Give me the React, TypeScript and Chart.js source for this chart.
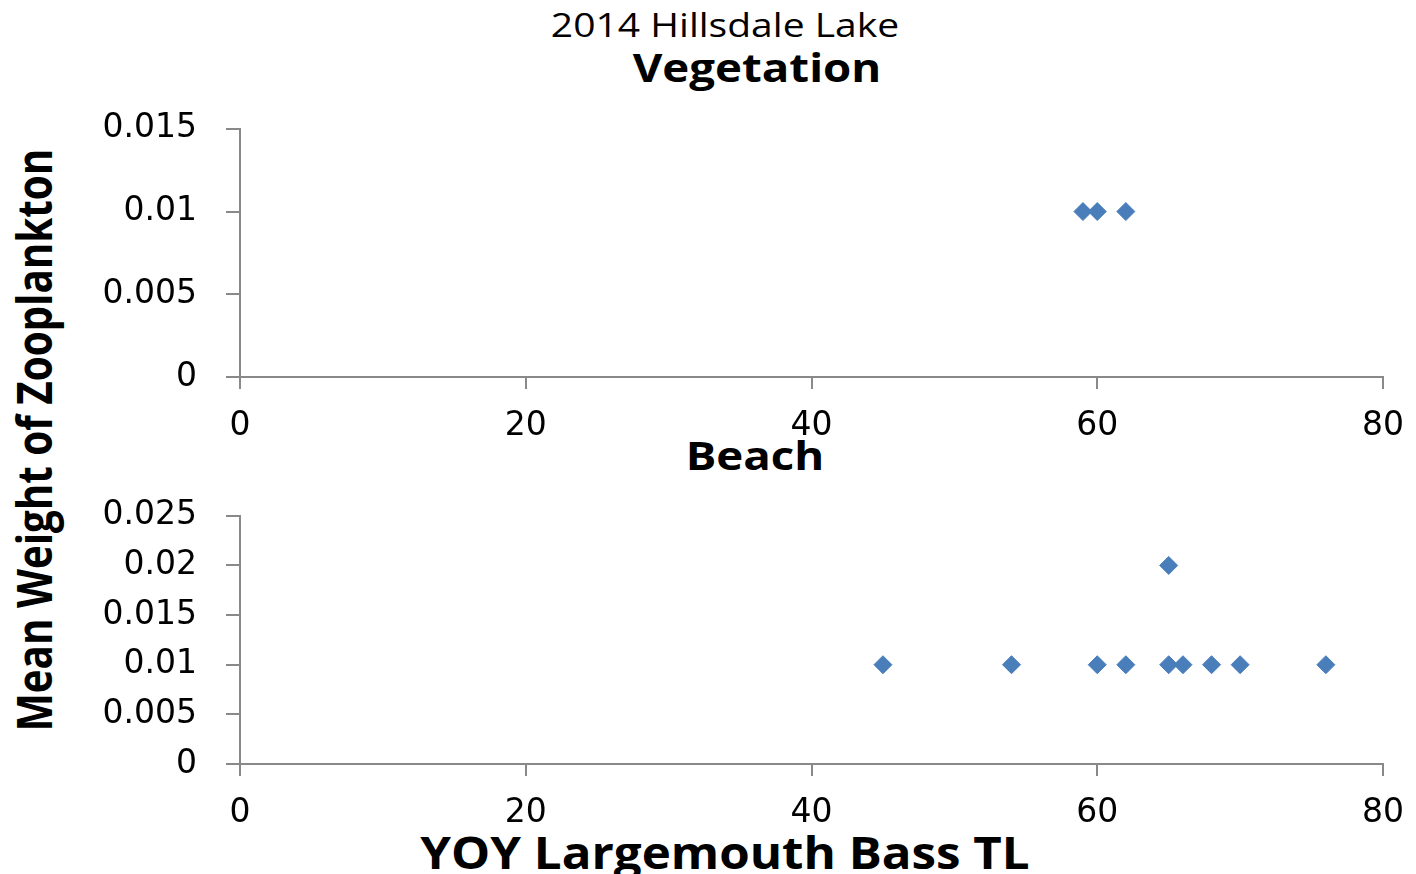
import React, { useEffect, useRef } from "react";
import { Chart, registerables } from "chart.js";

Chart.register(...registerables);

// ---- data ----
const vegetationTL = [59, 60, 62];
const vegetationWeight = [0.01, 0.01, 0.01];
const beachTL = [45, 54, 60, 62, 65, 65, 66, 68, 70, 76];
const beachWeight = [0.01, 0.01, 0.01, 0.01, 0.02, 0.01, 0.01, 0.01, 0.01, 0.01];
const xMin = 0;
const xMax = 80;
const xStep = 20;
const vegetationYMax = 0.015;
const beachYMax = 0.025;
const yStep = 0.005;

const AXIS_COLOR = "#898989";
const POINT_COLOR = "#4A7EBB";
const TICK_FONT = { family: "'DejaVu Sans', Verdana, sans-serif", size: 33 };
const CANVAS_W = 1362;
const CANVAS_H = 360;

function Scatter(props: { xs: number[]; ys: number[]; yMax: number; top: number }) {
  const ref = useRef<HTMLCanvasElement | null>(null);
  useEffect(() => {
    const canvas = ref.current;
    if (!canvas) return;
    const pts = props.xs.map((x, i) => ({ x, y: props.ys[i] }));
    const chart = new Chart(canvas, {
      type: "scatter",
      data: {
        datasets: [
          {
            data: pts,
            pointStyle: "rectRot",
            pointRadius: 9,
            pointHoverRadius: 9,
            backgroundColor: POINT_COLOR,
            borderColor: POINT_COLOR,
            borderWidth: 1,
          },
        ],
      },
      options: {
        responsive: false,
        animation: false,
        events: [],
        layout: { padding: { top: 0, right: 0, bottom: 0, left: 0 } },
        plugins: { legend: { display: false }, tooltip: { enabled: false }, title: { display: false } },
        scales: {
          x: {
            type: "linear",
            min: xMin,
            max: xMax,
            ticks: { stepSize: xStep, color: "#000", font: TICK_FONT, padding: 18, maxRotation: 0 },
            grid: { drawOnChartArea: false, drawTicks: true, tickLength: 12, color: AXIS_COLOR, lineWidth: 2 },
            border: { display: true, color: AXIS_COLOR, width: 2 },
            afterFit: (s: any) => {
              s.height = 63;
            },
          },
          y: {
            type: "linear",
            min: 0,
            max: props.yMax,
            ticks: {
              stepSize: yStep,
              color: "#000",
              font: TICK_FONT,
              padding: 29,
              callback: (v: any) => String(Number(Number(v).toFixed(3))),
            },
            grid: { drawOnChartArea: false, drawTicks: true, tickLength: 14, color: AXIS_COLOR, lineWidth: 2 },
            border: { display: true, color: AXIS_COLOR, width: 2 },
            afterFit: (s: any) => {
              s.width = 180;
            },
          },
        },
      },
    } as any);
    return () => chart.destroy();
  }, []);
  return (
    <canvas
      ref={ref}
      width={CANVAS_W}
      height={CANVAS_H}
      style={{ position: "absolute", left: 60, top: props.top, width: CANVAS_W, height: CANVAS_H }}
    />
  );
}

const titleFont = "'Open Sans', 'Noto Sans', sans-serif";

function Label(props: { text: string; x: number; y: number; size: number; stretch: number; bold?: boolean }) {
  return (
    <div
      style={{
        position: "absolute",
        left: props.x,
        top: props.y,
        transform: `translate(-50%, -50%) scaleX(${props.stretch})`,
        whiteSpace: "nowrap",
        fontFamily: titleFont,
        fontSize: props.size,
        fontWeight: props.bold ? 700 : 400,
        color: "#000",
        lineHeight: 1,
      }}
    >
      {props.text}
    </div>
  );
}

export default function App() {
  return (
    <div
      style={{
        position: "fixed",
        left: 0,
        top: 0,
        width: 1416,
        height: 874,
        background: "#fff",
        overflow: "hidden",
      }}
    >
      <Label text="2014 Hillsdale Lake" x={725} y={25} size={32} stretch={1.22} />
      <Label text="Vegetation" x={757} y={67} size={40} stretch={1.14} bold />
      <Label text="Beach" x={755} y={455} size={40} stretch={1.14} bold />
      <Label text="YOY Largemouth Bass TL" x={725} y={852} size={44} stretch={1.12} bold />
      <div
        style={{
          position: "absolute",
          left: 34,
          top: 440,
          transform: "translate(-50%, -50%) rotate(-90deg) scaleX(0.84)",
          whiteSpace: "nowrap",
          fontFamily: titleFont,
          fontSize: 48,
          fontWeight: 700,
          lineHeight: 1,
          color: "#000",
        }}
      >
        Mean Weight of Zooplankton
      </div>
      <Scatter xs={vegetationTL} ys={vegetationWeight} yMax={vegetationYMax} top={80} />
      <Scatter xs={beachTL} ys={beachWeight} yMax={beachYMax} top={467} />
    </div>
  );
}
